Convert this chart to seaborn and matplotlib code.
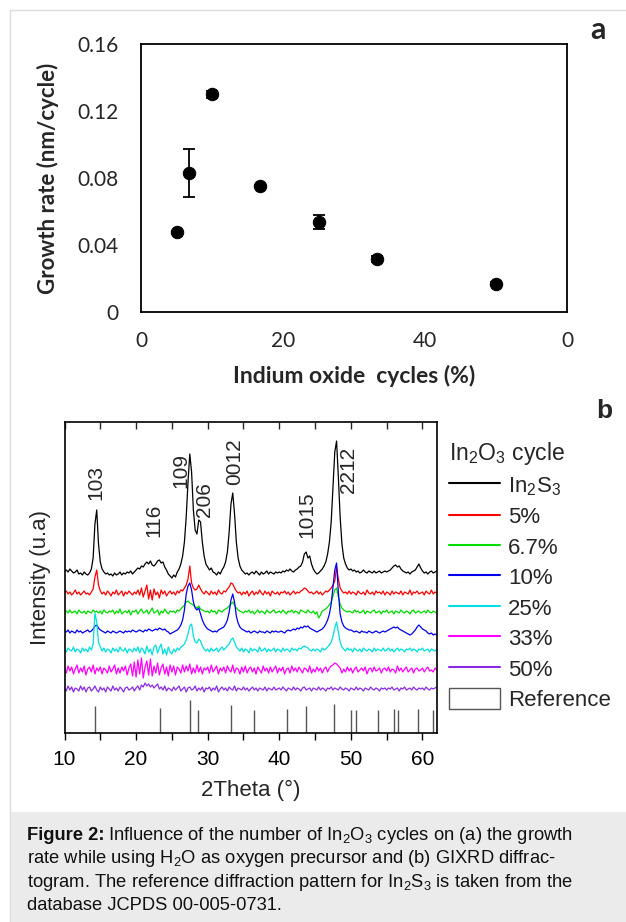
import numpy as np
import pandas as pd
import matplotlib.pyplot as plt
import seaborn as sns
from matplotlib.lines import Line2D
from matplotlib.patches import Patch, Rectangle

# ---- panel a: growth rate vs indium oxide cycles ----
oxide_cycles = [5, 6.7, 10, 16.7, 25, 33.3, 50]
growth_rate = [0.0475, 0.0830, 0.1300, 0.0755, 0.0538, 0.0317, 0.0170]
growth_err = [0.001, 0.0141, 0.002, 0.0005, 0.004, 0.002, 0.001]
a_xticks = [0, 20, 40, 60]
a_xticklabels = ["0", "20", "40", "0"]
a_yticks = [0, 0.04, 0.08, 0.12, 0.16]
a_yticklabels = ["0", "0.04", "0.08", "0.12", "0.16"]

# ---- panel b: GIXRD scans (2theta grid 10..62, step 0.25) ----
scan_start, scan_step = 10.0, 0.25
sample_names = ["In$_2$S$_3$", "5%", "6.7%", "10%", "25%", "33%", "50%"]
trace_colors = ["#000000", "#ff0000", "#00dd00", "#0000ee", "#00e0e0", "#ff00ff", "#8a2be2"]
trace_offsets = [161, 140, 121, 101, 83, 63, 44]

int_in2s3 = [
    1, 2, 0, 3, 1, -1, 0, 2, -2, -1, -3, 0, -2, -3, -1, 3, 14, 48, 62, 28,
    10, 3, 0, -2, -1, -3, -2, -4, -1, -3, -2, 0, -3, -1, -2, 0, -1, 1, -2, 0,
    2, 4, 3, 6, 5, 8, 10, 8, 11, 7, 6, 8, 11, 12, 9, 10, 5, 2, -2, -4,
    -6, -3, -5, 0, 3, 8, 16, 30, 55, 90, 118, 100, 62, 42, 38, 52, 50, 30, 16, 8,
    5, 2, 4, 0, -1, -3, 0, -2, 2, 5, 10, 20, 40, 68, 79, 58, 30, 14, 6, 2,
    0, -2, -1, -3, -1, 0, -2, 1, -1, -3, 0, -2, -1, 1, -2, 0, -1, -2, 0, -1,
    0, -1, 1, 0, 2, 1, 3, 1, 0, 2, 3, 5, 6, 10, 18, 20, 14, 16, 8, 3,
    0, -2, -1, 1, 3, 6, 10, 18, 30, 50, 85, 120, 131, 95, 55, 28, 14, 8, 4, 2,
    3, 1, 2, 0, 1, -1, 0, 2, 0, -1, 1, 0, -1, 1, -1, 0, 1, -1, 0, 1,
    0, 1, 2, 4, 6, 7, 5, 6, 3, 1, 0, -1, 0, -2, 0, 1, 2, 5, 8, 4,
    1, -1, 0, -2, 0, 1, -1, 0, 1,
]
int_5 = [
    0, 2, -1, 1, -2, 0, 3, -1, 1, -2, 0, 2, -1, 0, -2, 1, 4, 16, 23, 8,
    2, -1, 1, -2, 2, 0, -3, 1, -1, 3, -2, 0, 2, -3, 1, -1, 2, 0, -2, 1,
    -1, 3, -2, 5, -4, 2, 8, -6, 3, -7, 4, -2, 1, -5, 3, -1, 2, -3, 0, 2,
    -1, 1, -2, 2, 0, 3, 2, 5, 8, 14, 27, 10, 5, 3, 4, 8, 4, 1, -1, 2,
    0, -2, 2, -1, 1, -2, 3, 0, -1, 2, 1, 4, 6, 10, 9, 5, 2, 0, 1, -2,
    1, -1, 2, -3, 0, 2, -2, 1, -1, 3, 0, -2, 2, -1, 1, -3, 2, 0, -1, 1,
    -2, 1, 0, 2, -1, 1, -2, 0, 2, -1, 1, 0, 2, 3, 5, 4, 2, 0, 1, -1,
    0, 2, -1, 1, -2, 0, 2, 1, 3, 5, 8, 12, 26, 14, 5, 2, 0, 1, -1, 2,
    -1, 1, 0, -2, 2, 0, -1, 1, -2, 3, 0, -1, 1, -2, 2, 0, 1, -1, 2, -2,
    1, 0, -2, 2, -1, 1, 0, -1, 2, -2, 1, 0, -1, 3, -2, 1, 0, 2, -1, 0,
    1, -2, 2, 0, -1, 3, -1, 1, 0,
]
int_6_7 = [
    0, 1, -1, 2, -1, 0, 1, -2, 2, 0, -1, 1, -2, 1, 0, -1, 2, 0, 1, -1,
    1, -2, 2, 0, -1, 1, 0, 2, -2, 1, -1, 3, -2, 0, 1, -1, 2, -3, 1, 0,
    2, -2, 1, 3, -1, 0, 2, -2, 1, 4, -1, 0, 2, -3, 1, -1, 3, 0, -2, 1,
    0, 1, -1, 2, 1, 3, 5, 7, 10, 11, 9, 8, 7, 5, 4, 6, 3, 2, 1, 0,
    1, -1, 2, 0, 1, -2, 2, 1, 0, 2, 3, 4, 6, 8, 10, 7, 4, 2, 1, 0,
    -1, 1, 0, 2, -1, 1, -2, 0, 2, -1, 1, 0, -2, 2, 0, -1, 1, 2, -1, 0,
    1, -1, 2, 0, -2, 1, 0, 2, -1, 1, 0, -2, 2, 1, 0, -1, 2, 0, -1, 1,
    -2, 0, -6, -3, 1, 2, 3, 5, 7, 10, 16, 22, 24, 15, 8, 4, 2, 1, 0, 1,
    0, -1, 2, 0, 1, -1, 0, 2, -2, 1, 0, -1, 1, 2, -1, 0, 1, -2, 1, 0,
    2, -1, 0, 1, -2, 1, 0, -1, 2, 0, -1, 1, 0, -2, 1, 2, -1, 0, 1, -1,
    0, 1, -1, 2, 0, -1, 1, 0, -1,
]
int_10 = [
    1, 0, 2, -1, 1, 0, -1, 2, 0, 1, -1, 0, 1, 2, 0, 1, 3, 6, 7, 4,
    2, 1, 0, -1, 1, 0, -1, 1, 0, -1, 0, 1, 0, -1, 1, 0, 1, 0, 2, 1,
    0, 1, 2, 1, 0, 2, 1, 3, 2, 1, 2, 3, 2, 4, 3, 2, 3, 1, 0, -2,
    -1, 0, 1, 2, 4, 7, 12, 22, 38, 46, 49, 42, 30, 24, 22, 24, 18, 12, 8, 5,
    3, 2, 1, 0, 1, 0, 2, 3, 4, 5, 8, 12, 20, 32, 38, 30, 16, 9, 5, 3,
    2, 1, 0, 1, -1, 0, 1, 0, -1, 1, 0, 0, -1, 1, 0, -1, 1, 0, 1, 0,
    0, 1, 0, -1, 1, 2, 1, 2, 3, 2, 4, 3, 5, 4, 6, 5, 6, 4, 3, 2,
    1, 0, 1, 2, 3, 5, 8, 12, 18, 28, 45, 62, 69, 40, 18, 10, 6, 4, 3, 2,
    2, 1, 0, 1, 0, -1, 1, 0, 0, -1, 1, 0, -1, 0, 1, 0, -1, 0, 1, 0,
    1, 2, 3, 4, 5, 4, 5, 3, 2, 1, 0, -1, -2, -3, -2, 0, 2, 5, 7, 5,
    3, 2, 1, -1, -2, -1, -3, -2, -3,
]
int_25 = [
    1, -2, 2, 0, -1, 3, -2, 1, 0, -3, 2, -1, 1, -2, 3, 0, 6, 37, 28, 8,
    3, -1, 2, -2, 1, 0, -3, 2, -1, 1, -2, 3, 0, -1, 2, -3, 1, 0, -2, 2,
    -1, 3, -3, 2, 0, -4, 4, -2, 1, -5, 3, 5, -3, 2, 6, -4, 1, -5, 3, -2,
    -4, 1, -2, 2, 0, 3, 4, 6, 10, 16, 24, 26, 14, 8, 7, 11, 9, 4, 1, -1,
    1, -2, 2, -1, 0, 2, -2, 1, 3, 0, 2, 4, 6, 10, 12, 8, 3, 1, -1, 2,
    -2, 1, 0, -3, 2, -1, 1, 0, -2, 3, -1, 0, 2, -2, 1, -1, 0, 2, -2, 1,
    0, -2, 2, -1, 1, 0, -2, 2, 0, 1, -1, 2, 1, 3, 4, 3, 2, 0, -1, 1,
    -1, 1, 0, -2, 2, 0, 1, 3, 5, 8, 14, 22, 28, 18, 8, 3, 1, -1, 2, 0,
    1, -2, 2, 0, -1, 1, -2, 2, 0, -1, 1, 0, -2, 2, -1, 1, 0, -1, 2, -1,
    0, 2, -1, 1, -2, 0, 2, -1, 1, 0, -2, 1, 0, 2, -1, 1, 0, -2, 1, 0,
    2, -1, 0, 1, -2, 1, 0, -1, 1,
]
int_33 = [
    2, -3, 4, -1, 3, -4, 1, 5, -3, 2, -2, 4, -5, 1, 3, -2, 5, -4, 2, -1,
    3, -4, 2, 0, -3, 4, -2, 1, 5, -4, 2, -3, 3, -1, 4, -5, 2, 6, -6, 8,
    -7, 10, -4, 12, -8, 3, 9, -5, 11, -6, 4, -3, 7, -5, 2, 6, -4, 3, -6, 5,
    -2, 4, -5, 3, 1, -3, 5, -2, 4, -1, 6, -4, 2, -3, 5, -2, 3, -4, 2, 0,
    3, -3, 5, -2, 1, 4, -4, 2, -1, 3, -3, 4, 0, -2, 5, -3, 2, 1, -4, 3,
    -2, 4, -3, 1, 3, -2, 2, -4, 3, 0, -3, 4, -1, 2, -3, 3, -2, 1, 4, -3,
    2, -1, 3, -4, 1, 2, -3, 4, -1, 2, -2, 3, 0, -3, 2, 1, -2, 4, -3, 1,
    -2, 3, -1, 2, -3, 1, 3, -2, 2, 4, 5, 7, 6, 4, 2, -3, 1, -2, 3, -1,
    2, -3, 1, 3, -2, 0, 2, -1, 3, -4, 1, 2, -2, 3, -1, 0, 2, -3, 1, 2,
    -1, 3, -2, 1, 0, -3, 4, -1, 2, -2, 1, 3, -2, 0, 2, -3, 1, 2, -1, 0,
    2, -2, 1, 3, -1, 0, -2, 2, 0,
]
int_50 = [
    1, -2, 3, -1, 2, -3, 1, 0, -2, 3, -1, 2, -3, 1, 2, -2, 0, 3, -1, -3,
    2, -1, 1, -3, 2, 0, -2, 3, -1, 1, -2, 2, 0, -3, 1, 2, -1, 0, 2, -2,
    1, 3, -1, 4, 2, 6, 3, 5, 2, 4, 1, 3, 5, 0, 2, -1, 3, -2, 1, 0,
    -2, 2, -1, 1, 3, -2, 0, 2, -3, 1, 2, -1, 0, 3, -2, 1, -1, 2, -3, 1,
    0, 2, -2, 1, -1, 3, -3, 0, 2, -1, 1, -2, 2, 0, -1, 3, -2, 1, 0, -1,
    2, -1, 1, -2, 0, 2, -1, 1, -2, 1, 0, -1, 2, -2, 1, 0, -1, 2, -1, 0,
    1, -1, 2, 0, -2, 1, 0, -1, 2, -1, 1, 0, -2, 1, 2, -1, 0, 1, -2, 1,
    0, -1, 2, -1, 1, 0, -2, 1, 0, 2, -1, 1, 0, -1, 2, 0, -1, 1, 0, -2,
    1, 0, -1, 2, -1, 1, 0, -2, 1, 0, -1, 2, 0, -1, 1, 0, -2, 1, 0, 1,
    -1, 1, 0, 2, -1, 0, 1, -2, 1, 0, 2, -1, 0, 1, -1, 2, 0, -1, 1, 0,
    1, -1, 2, 0, -1, 1, 0, 1, 2,
]

# JCPDS 00-005-0731 reference sticks
ref_positions = [14.2, 23.4, 27.5, 28.65, 33.3, 36.4, 41.1, 43.7, 47.65,
                 50.05, 50.7, 53.8, 56.0, 56.6, 59.4, 61.4]
ref_heights = [27, 25, 33, 23, 28, 23, 24, 27, 29, 23, 23, 23, 24, 23, 24, 23]

# hkl labels: peak position and label bottom
peak_labels = ["103", "116", "109", "206", "0012", "1015", "2212"]
peak_label_x = [14.4, 22.5, 26.2, 29.6, 33.7, 43.9, 49.7]
peak_label_y = [233, 196, 245, 216, 248, 195, 240]

b_xticks = [10, 20, 30, 40, 50, 60]


def main():
    sns.set_theme(style="white")
    plt.rcParams["font.family"] = ["Liberation Sans", "DejaVu Sans"]
    plt.rcParams["mathtext.fontset"] = "custom"
    plt.rcParams["mathtext.rm"] = "Liberation Sans"
    plt.rcParams["mathtext.it"] = "Liberation Sans:italic"
    plt.rcParams["mathtext.bf"] = "Liberation Sans:bold"

    W, H = 626, 922
    fig = plt.figure(figsize=(W / 100, H / 100), dpi=100)
    fig.patch.set_facecolor("white")

    # page frame + caption box
    fig.add_artist(Rectangle((10 / W, 0), 1, 1 - 10 / H, transform=fig.transFigure,
                             fill=False, edgecolor="#dcdcdc", linewidth=1))
    fig.add_artist(Rectangle((10.5 / W, 0), 1, 110 / H, transform=fig.transFigure,
                             facecolor="#ebebeb", edgecolor="none"))

    # ---------------- panel a ----------------
    ax_a = fig.add_axes([141 / W, 1 - 312 / H, 426 / W, 268 / H])
    ax_a.errorbar(oxide_cycles, growth_rate, yerr=growth_err, fmt="none",
                  ecolor="black", elinewidth=1.3, capsize=4.3, capthick=1.3, zorder=2)
    sns.scatterplot(x=oxide_cycles, y=growth_rate, color="black", edgecolor="black",
                    s=80, ax=ax_a, zorder=3)
    ax_a.set_xlim(0, 60)
    ax_a.set_ylim(0, 0.16)
    ax_a.set_xticks(a_xticks)
    ax_a.set_xticklabels(a_xticklabels, fontsize=15, family="Lato")
    ax_a.set_yticks(a_yticks)
    ax_a.set_yticklabels(a_yticklabels, fontsize=15, family="Lato")
    ax_a.tick_params(axis="x", length=0, pad=14)
    ax_a.tick_params(axis="y", length=0, pad=16)
    for sp in ax_a.spines.values():
        sp.set_color("black")
        sp.set_linewidth(1.3)
    ax_a.set_xlabel("Indium oxide  cycles (%)", fontsize=16.5, fontweight="bold",
                    family="Lato", labelpad=10)
    ax_a.set_ylabel("Growth rate (nm/cycle)", fontsize=16, fontweight="bold",
                    family="Lato", labelpad=13)
    fig.text(598 / W, 1 - 30 / H, "a", fontsize=22, fontweight="bold", family="Lato",
             ha="center", va="center")

    # ---------------- panel b ----------------
    ax_b = fig.add_axes([64.5 / W, 1 - 733 / H, 372.3 / W, 311 / H])
    traces = [int_in2s3, int_5, int_6_7, int_10, int_25, int_33, int_50]
    frames = []
    for name, off, vals in zip(sample_names, trace_offsets, traces):
        tt = scan_start + scan_step * np.arange(len(vals))
        frames.append(pd.DataFrame({"two_theta": tt,
                                    "intensity": np.asarray(vals) + off,
                                    "sample": name}))
    df = pd.concat(frames, ignore_index=True)
    palette = dict(zip(sample_names, trace_colors))
    sns.lineplot(data=df, x="two_theta", y="intensity", hue="sample",
                 hue_order=sample_names, palette=palette, estimator=None,
                 sort=False, linewidth=0.9, legend=False, ax=ax_b)
    ax_b.vlines(ref_positions, 0, ref_heights, colors="#555555", linewidth=1)

    for lab, x, y in zip(peak_labels, peak_label_x, peak_label_y):
        ax_b.text(x, y, lab, rotation=90, fontsize=15, ha="center", va="bottom")

    ax_b.set_xlim(10, 62)
    ax_b.set_ylim(0, 311)
    ax_b.set_yticks([])
    ax_b.set_xticks(b_xticks)
    ax_b.set_xticks(np.arange(15, 60, 10), minor=True)
    ax_b.tick_params(axis="x", which="both", direction="out", length=5, width=1,
                     bottom=True, labelsize=15, pad=7, colors="black")
    top = ax_b.secondary_xaxis("top")
    top.set_xticks(np.arange(10, 62, 5))
    top.tick_params(direction="in", length=5, width=1, labeltop=False)
    top.spines["top"].set_visible(False)
    for sp in ax_b.spines.values():
        sp.set_color("black")
        sp.set_linewidth(1.2)
    ax_b.set_xlabel("2Theta (°)", fontsize=16, labelpad=8)
    ax_b.set_ylabel("Intensity (u.a)", fontsize=16, labelpad=10)

    handles = [Line2D([0], [0], color=c, linewidth=1.5) for c in trace_colors]
    handles.append(Patch(facecolor="white", edgecolor="#555555", linewidth=1))
    labels = sample_names + ["Reference"]
    ax_b.legend(handles, labels, title="In$_2$O$_3$ cycle", loc="upper left",
                bbox_to_anchor=(449 / W, 1 - 440 / H), bbox_transform=fig.transFigure,
                frameon=False, fontsize=16, title_fontsize=16.5, handlelength=2.3,
                handleheight=1.05, handletextpad=0.35, labelspacing=0.34,
                borderpad=0, borderaxespad=0, alignment="left")
    fig.text(604 / W, 1 - 411 / H, "b", fontsize=19, fontweight="bold",
             ha="center", va="center")

    # ---------------- caption ----------------
    caption = [
        "Influence of the number of In$_2$O$_3$ cycles on (a) the growth",
        "rate while using H$_2$O as oxygen precursor and (b) GIXRD diffrac-",
        "togram. The reference diffraction pattern for In$_2$S$_3$ is taken from the",
        "database JCPDS 00-005-0731.",
    ]
    cap_x = 27 / W
    head = fig.text(cap_x, 1 - 840 / H, "Figure 2:", fontsize=13.2, fontweight="bold",
                    ha="left", va="baseline", color="#111111")
    renderer = fig.canvas.get_renderer()
    head_w = head.get_window_extent(renderer).width
    for k, line in enumerate(caption):
        x0 = cap_x + ((head_w + 4) / W if k == 0 else 0)
        fig.text(x0, 1 - (840 + 23.3 * k) / H, line, fontsize=13.2,
                 ha="left", va="baseline", color="#111111")

    fig.savefig("out.png", dpi=100)
    plt.close(fig)


if __name__ == "__main__":
    main()
